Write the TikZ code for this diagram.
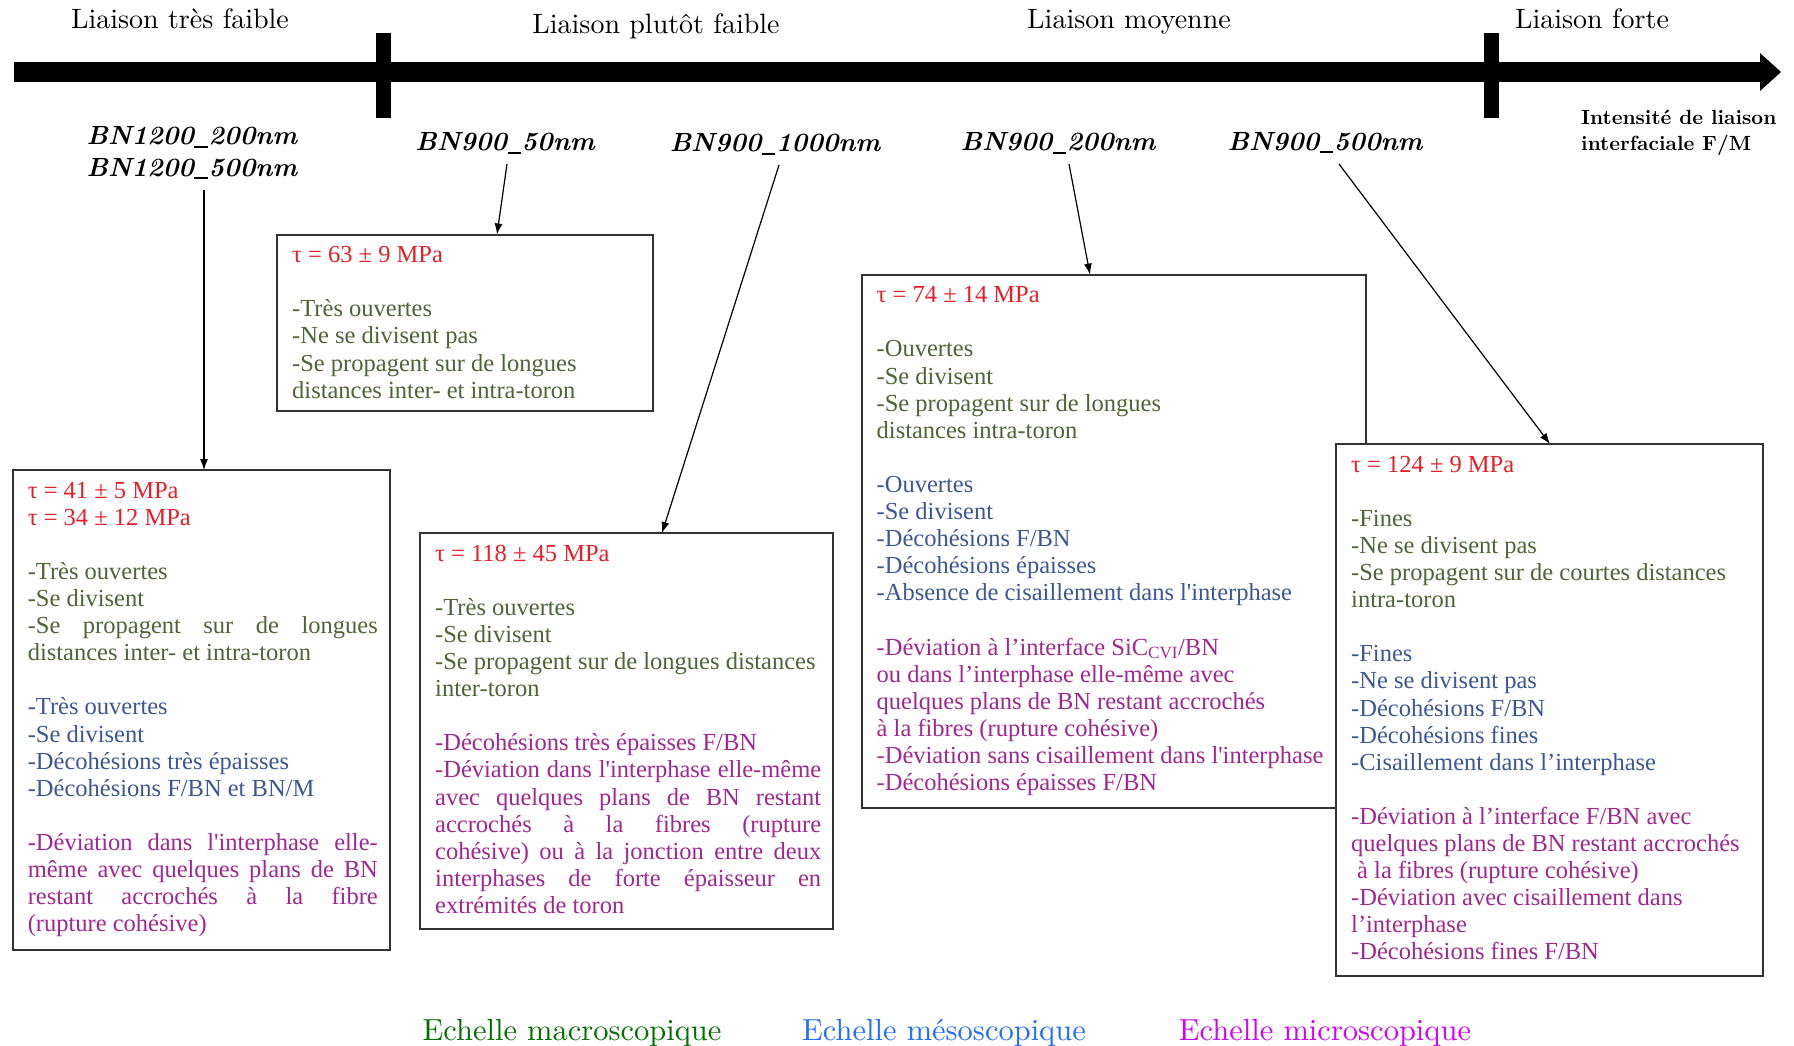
\documentclass[tikz,border=0pt]{standalone}
\usepackage{fontspec}
\usetikzlibrary{arrows.meta}
\newfontfamily\lmten{lmroman10-regular}[Extension=.otf, BoldFont=lmroman10-bold, ItalicFont=lmroman10-italic, BoldItalicFont=lmroman10-bolditalic]
\newfontfamily\boxfont{Liberation Serif}
\definecolor{tred}{RGB}{228,32,40}
\definecolor{tgreen}{RGB}{80,100,55}
\definecolor{tblue}{RGB}{60,88,148}
\definecolor{tmag}{RGB}{160,40,145}
\definecolor{lgreen}{RGB}{0,112,0}
\definecolor{lblue}{RGB}{30,110,255}
\definecolor{lmag}{RGB}{210,0,250}
\newcommand\cRed[1]{\textcolor{tred}{#1}}
\newcommand\cGrn[1]{\textcolor{tgreen}{#1}}
\newcommand\cBlu[1]{\textcolor{tblue}{#1}}
\newcommand\cMag[1]{\textcolor{tmag}{#1}}
\newcommand\jline[2]{\makebox[#1][s]{#2}}
\newcommand\sq{{\char"0027}}
\newcommand\bnus{\hspace{0.02em}\rule[-0.11em]{0.5em}{0.07em}\hspace{0.04em}}
\begin{document}
\begin{tikzpicture}[x=1pt,y=-1pt,
  head/.style={font=\lmten\fontsize{28}{32}\selectfont, anchor=base, inner sep=0},
  bnlab/.style={font=\lmten\bfseries\itshape\fontsize{26.3}{30}\selectfont, anchor=base, inner sep=0},
  card/.style={draw=black!80, line width=2pt, fill=white, anchor=north west, inner sep=0, outer sep=0},
  body/.style={font=\boxfont\fontsize{24.5}{27.1}\selectfont, anchor=north west, inner sep=0, align=left},
  conn/.style={line width=1.2pt, -{Latex[length=11pt,width=8pt]}},
  legend/.style={font=\lmten\fontsize{30.5}{34}\selectfont, anchor=base, inner sep=0}
]
\useasboundingbox (0,0) rectangle (1794,1046);
\fill[white] (0,0) rectangle (1794,1046);

% axis
\fill (14,62) rectangle (1762,82);
\fill (1760,53) -- (1781,72) -- (1760,91) -- cycle;
\fill (376,33) rectangle (391,118);
\fill (1484,33) rectangle (1499,118);

% headings
\node[head] (h1) at (180,29) {Liaison très faible};
\node[head] (h2) at (656,34) {Liaison plutôt faible};
\node[head] (h3) at (1129,29) {Liaison moyenne};
\node[head] (h4) at (1592,29) {Liaison forte};
\node[font=\lmten\bfseries\fontsize{20.5}{26}\selectfont, anchor=north west, inner sep=0, align=left] (intens) at (1581,106.5) {\strut Intensité de liaison\\interfaciale F/M};

% sample labels
\node[bnlab] (b1a) at (192,145) {BN1200\bnus 200nm};
\node[bnlab] (b1b) at (192,176) {BN1200\bnus 500nm};
\node[bnlab] (b2) at (505,151) {BN900\bnus 50nm};
\node[bnlab] (b3) at (775,152) {BN900\bnus 1000nm};
\node[bnlab] (b4) at (1058,151) {BN900\bnus 200nm};
\node[bnlab] (b5) at (1325,150) {BN900\bnus 500nm};

% box A
\node[card, minimum width=377.4pt, minimum height=480pt] (A) at (12.6,470) {};
\node[body] (At) at (27.6,479) {\strut\cRed{τ = 41 ± 5 MPa}\\
\cRed{τ = 34 ± 12 MPa}\\
\mbox{}\\
\cGrn{-Très ouvertes}\\
\cGrn{-Se divisent}\\
\cGrn{\jline{350pt}{-Se propagent sur de longues}}\\
\cGrn{distances inter- et intra-toron}\\
\mbox{}\\
\cBlu{-Très ouvertes}\\
\cBlu{-Se divisent}\\
\cBlu{-Décohésions très épaisses}\\
\cBlu{-Décohésions F/BN et BN/M}\\
\mbox{}\\
\cMag{\jline{350pt}{-Déviation dans l\sq interphase elle-}}\\
\cMag{\jline{350pt}{même avec quelques plans de BN}}\\
\cMag{\jline{350pt}{restant accrochés à la fibre}}\\
\cMag{(rupture cohésive)}};

% box B
\node[card, minimum width=376pt, minimum height=176.5pt] (B) at (277,234.5) {};
\node[body] (Bt) at (292,243.5) {\strut\cRed{τ = 63 ± 9 MPa}\\
\mbox{}\\
\cGrn{-Très ouvertes}\\
\cGrn{-Ne se divisent pas}\\
\cGrn{-Se propagent sur de longues}\\
\cGrn{distances inter- et intra-toron}};

% box C
\node[card, minimum width=413pt, minimum height=396pt] (C) at (420,533) {};
\node[body] (Ct) at (435,542) {\strut\cRed{τ = 118 ± 45 MPa}\\
\mbox{}\\
\cGrn{-Très ouvertes}\\
\cGrn{-Se divisent}\\
\cGrn{-Se propagent sur de longues distances}\\
\cGrn{inter-toron}\\
\mbox{}\\
\cMag{-Décohésions très épaisses F/BN}\\
\cMag{\jline{386pt}{-Déviation dans l\sq interphase elle-même}}\\
\cMag{\jline{386pt}{avec quelques plans de BN restant}}\\
\cMag{\jline{386pt}{accrochés à la fibres (rupture}}\\
\cMag{\jline{386pt}{cohésive) ou à la jonction entre deux}}\\
\cMag{\jline{386pt}{interphases de forte épaisseur en}}\\
\cMag{extrémités de toron}};

% box D
\node[card, minimum width=504.5pt, minimum height=533.4pt] (D) at (861.5,274.6) {};
\node[body] (Dt) at (876.5,283.6) {\strut\cRed{τ = 74 ± 14 MPa}\\
\mbox{}\\
\cGrn{-Ouvertes}\\
\cGrn{-Se divisent}\\
\cGrn{-Se propagent sur de longues}\\
\cGrn{distances intra-toron}\\
\mbox{}\\
\cBlu{-Ouvertes}\\
\cBlu{-Se divisent}\\
\cBlu{-Décohésions F/BN}\\
\cBlu{-Décohésions épaisses}\\
\cBlu{-Absence de cisaillement dans l\sq interphase}\\
\mbox{}\\
\cMag{-Déviation à l’interface SiC\textsubscript{CVI}/BN}\\
\cMag{ou dans l’interphase elle-même avec}\\
\cMag{quelques plans de BN restant accrochés}\\
\cMag{à la fibres (rupture cohésive)}\\
\cMag{-Déviation sans cisaillement dans l\sq interphase}\\
\cMag{-Décohésions épaisses F/BN}};

% box E
\node[card, minimum width=427pt, minimum height=532pt] (E) at (1336,444) {};
\node[body] (Et) at (1351,453) {\strut\cRed{τ = 124 ± 9 MPa}\\
\mbox{}\\
\cGrn{-Fines}\\
\cGrn{-Ne se divisent pas}\\
\cGrn{-Se propagent sur de courtes distances}\\
\cGrn{intra-toron}\\
\mbox{}\\
\cBlu{-Fines}\\
\cBlu{-Ne se divisent pas}\\
\cBlu{-Décohésions F/BN}\\
\cBlu{-Décohésions fines}\\
\cBlu{-Cisaillement dans l’interphase}\\
\mbox{}\\
\cMag{-Déviation à l’interface F/BN avec}\\
\cMag{quelques plans de BN restant accrochés}\\
\cMag{\hspace{6pt}à la fibres (rupture cohésive)}\\
\cMag{-Déviation avec cisaillement dans}\\
\cMag{l’interphase}\\
\cMag{-Décohésions fines F/BN}};

% connectors
\draw[conn] ([xshift=12pt,yshift=-14pt]b1b.base) -- ([xshift=191.4pt]A.north west);
\draw[conn] ([xshift=2pt,yshift=-13pt]b2.base) -- ([xshift=220pt]B.north west);
\draw[conn] ([xshift=4pt,yshift=-13pt]b3.base) -- ([xshift=242pt]C.north west);
\draw[conn] ([xshift=11pt,yshift=-13pt]b4.base) -- ([xshift=228.5pt]D.north west);
\draw[conn] ([xshift=14pt,yshift=-14pt]b5.base) -- ([xshift=214pt]E.north west);

% legend
\node[legend, text=lgreen] (lg1) at (572,1040) {Echelle macroscopique};
\node[legend, text=lblue] (lg2) at (944,1040) {Echelle mésoscopique};
\node[legend, text=lmag] (lg3) at (1325,1040) {Echelle microscopique};
\end{tikzpicture}
\end{document}
